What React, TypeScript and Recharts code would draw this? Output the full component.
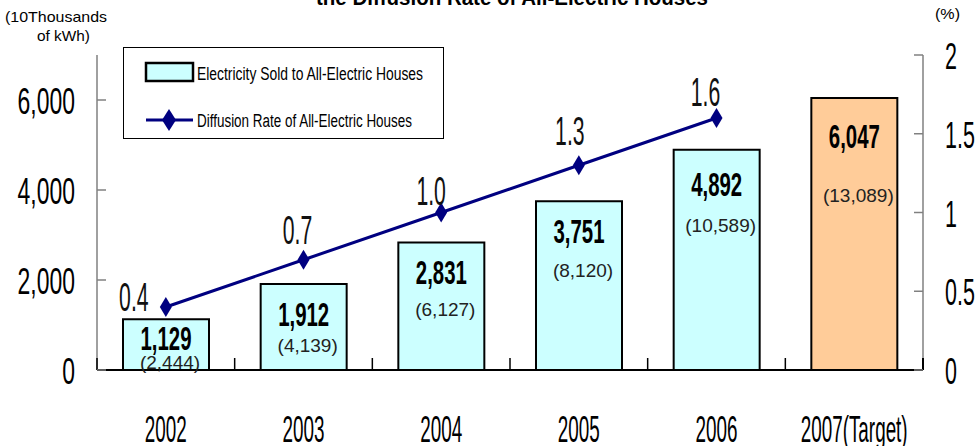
import React from 'react'
import { ComposedChart, Bar, Line, XAxis, YAxis, Legend, LabelList, Cell } from 'recharts'

// values
const years = ['2002', '2003', '2004', '2005', '2006', '2007(Target)']
const salesVolume = [1129, 1912, 2831, 3751, 4892, 6047] // 10 thousand kWh
const houseCounts = [2444, 4139, 6127, 8120, 10589, 13089]
const diffusionRate: (number | null)[] = [0.4, 0.7, 1.0, 1.3, 1.6, null]
const leftTicks = [0, 2000, 4000, 6000]
const rightTicks = [0, 0.5, 1, 1.5, 2]

// hand placed label offsets (px) like in the original sheet
const valueLabelDy = [19, 30, 29, 30, 34, 38]
const countLabelDy = [43, 61, 66, 69, 75, 97]
const rateLabelDx = [-32, -6, -10, -9, -11, 0]
const rateLabelDy = [-10, -30, -22, -34, -26, 0]

const W = 976
const H = 446
const PLOT_L = 97
const PLOT_R = 923
const PLOT_B = 370
const BAND = (PLOT_R - PLOT_L) / years.length

const FONT = "'Liberation Sans', Arial, sans-serif"
const CYAN = '#CCFFFF'
const PEACH = '#FFCC99'
const NAVY = '#000080'
const AXIS_GRAY = '#808080'

const chartData = years.map((year, i) => ({
  year,
  sales: salesVolume[i],
  houses: houseCounts[i],
  rate: diffusionRate[i],
}))

function Narrow({ x, y, text, size, sx, anchor = 'middle', weight = 400, fill = '#000' }: any) {
  return (
    <text
      transform={`translate(${x},${y}) scale(${sx},1)`}
      textAnchor={anchor}
      fontSize={size}
      fontWeight={weight}
      fill={fill}
      fontFamily={FONT}
    >
      {text}
    </text>
  )
}

const LeftTick = ({ y, payload }: any) => (
  <g>
    <line x1={PLOT_L} x2={PLOT_L + 9} y1={y} y2={y} stroke={AXIS_GRAY} strokeWidth={1.5} />
    <Narrow x={75} y={y + 14} text={Number(payload.value).toLocaleString('en-US')} size={37} sx={0.62} anchor="end" />
  </g>
)

const RightTick = ({ y, payload }: any) => (
  <g>
    <line x1={PLOT_R - 9} x2={PLOT_R} y1={y} y2={y} stroke={AXIS_GRAY} strokeWidth={1.5} />
    <Narrow x={945} y={y + 14} text={String(payload.value)} size={37} sx={0.58} anchor="start" />
  </g>
)

const YearTick = ({ x, payload, index }: any) => (
  <g>
    <line x1={x - BAND / 2} x2={x - BAND / 2} y1={PLOT_B - 12} y2={PLOT_B} stroke="#000" strokeWidth={1.5} />
    {index === years.length - 1 && (
      <line x1={x + BAND / 2} x2={x + BAND / 2} y1={PLOT_B - 12} y2={PLOT_B} stroke="#000" strokeWidth={2} />
    )}
    <Narrow x={x} y={442} text={payload.value} size={37} sx={0.51} />
  </g>
)

const BarLabel = ({ x, y, width, index }: any) => {
  const cx = x + width / 2
  return (
    <g>
      <Narrow
        x={cx}
        y={y + valueLabelDy[index] + 12}
        text={salesVolume[index].toLocaleString('en-US')}
        size={34}
        sx={0.6}
        weight={700}
      />
      <text
        x={cx + 4}
        y={y + countLabelDy[index] + 7}
        textAnchor="middle"
        fontSize={19}
        fill="#222"
        fontFamily={FONT}
      >
        {`(${houseCounts[index].toLocaleString('en-US')})`}
      </text>
    </g>
  )
}

const RateLabel = ({ x, y, value, index }: any) => {
  if (value == null) return null
  return (
    <Narrow
      x={x + rateLabelDx[index]}
      y={y + rateLabelDy[index] + 14}
      text={Number(value).toFixed(1)}
      size={40}
      sx={0.53}
      fill="#111"
    />
  )
}

const Diamond = ({ cx, cy, value, index }: any) => {
  if (value == null || cx == null || cy == null) return <g key={`d${index}`} />
  return (
    <polygon
      key={`d${index}`}
      points={`${cx},${cy - 10} ${cx + 6},${cy} ${cx},${cy + 10} ${cx - 6},${cy}`}
      fill={NAVY}
    />
  )
}

const LegendBox = () => (
  <svg width={321} height={92} style={{ display: 'block' }}>
    <rect x={0.5} y={0.5} width={320} height={91} fill="#fff" stroke="#000" strokeWidth={1} />
    <rect x={23} y={16} width={47} height={18} fill={CYAN} stroke="#000" strokeWidth={2.5} />
    <text x={74} y={33} fontSize={18} fontFamily={FONT} textLength={226} lengthAdjust="spacingAndGlyphs">
      Electricity Sold to All-Electric Houses
    </text>
    <line x1={23} x2={70} y1={73} y2={73} stroke={NAVY} strokeWidth={3} />
    <polygon points="46,62 53,73 46,84 39,73" fill={NAVY} />
    <text x={74} y={80} fontSize={18} fontFamily={FONT} textLength={215} lengthAdjust="spacingAndGlyphs">
      Diffusion Rate of All-Electric Houses
    </text>
  </svg>
)

export default function App() {
  return (
    <div style={{ position: 'relative', width: W, height: H, background: '#fff' }}>
      <style>{'body{margin:0;background:#fff}'}</style>
      <ComposedChart width={W} height={H} data={chartData} margin={{ top: 55, right: 0, left: 0, bottom: 16 }}>
        <XAxis
          dataKey="year"
          height={60}
          interval={0}
          tickLine={false}
          axisLine={{ stroke: '#000', strokeWidth: 2 }}
          tick={(p: any) => <YearTick {...p} />}
        />
        <YAxis
          yAxisId="left"
          orientation="left"
          width={97}
          domain={[0, 7000]}
          ticks={leftTicks}
          tickLine={false}
          axisLine={{ stroke: AXIS_GRAY, strokeWidth: 1.5 }}
          tick={(p: any) => <LeftTick {...p} />}
        />
        <YAxis
          yAxisId="right"
          orientation="right"
          width={53}
          domain={[0, 2]}
          ticks={rightTicks}
          tickLine={false}
          axisLine={{ stroke: AXIS_GRAY, strokeWidth: 1.5 }}
          tick={(p: any) => <RightTick {...p} />}
        />
        <Legend
          layout="vertical"
          align="center"
          verticalAlign="middle"
          wrapperStyle={{ left: 123, top: 47, width: 321, height: 92 }}
          content={() => <LegendBox />}
        />
        <Bar
          yAxisId="left"
          dataKey="sales"
          name="Electricity Sold to All-Electric Houses"
          barSize={86}
          fill={CYAN}
          stroke="#000"
          strokeWidth={2}
          isAnimationActive={false}
        >
          {chartData.map((d, i) => (
            <Cell key={d.year} fill={i === years.length - 1 ? PEACH : CYAN} />
          ))}
          <LabelList dataKey="sales" content={(p: any) => <BarLabel {...p} />} />
        </Bar>
        <Line
          yAxisId="right"
          dataKey="rate"
          name="Diffusion Rate of All-Electric Houses"
          stroke={NAVY}
          strokeWidth={3}
          dot={(p: any) => <Diamond {...p} />}
          activeDot={false}
          isAnimationActive={false}
        >
          <LabelList dataKey="rate" content={(p: any) => <RateLabel {...p} />} />
        </Line>
      </ComposedChart>
      <svg
        width={W}
        height={H}
        style={{ position: 'absolute', left: 0, top: 0, pointerEvents: 'none' }}
      >
        <text x={316} y={5} fontSize={22} fontWeight={700} fontFamily={FONT} textLength={392} lengthAdjust="spacingAndGlyphs">
          the Diffusion Rate of All-Electric Houses
        </text>
        <text x={5} y={22} fontSize={15} fontFamily={FONT} textLength={102} lengthAdjust="spacingAndGlyphs">
          (10Thousands
        </text>
        <text x={37} y={41} fontSize={15} fontFamily={FONT} textLength={53} lengthAdjust="spacingAndGlyphs">
          of kWh)
        </text>
        <text x={935} y={19} fontSize={15} fontFamily={FONT} textLength={25} lengthAdjust="spacingAndGlyphs">
          (%)
        </text>
      </svg>
    </div>
  )
}
